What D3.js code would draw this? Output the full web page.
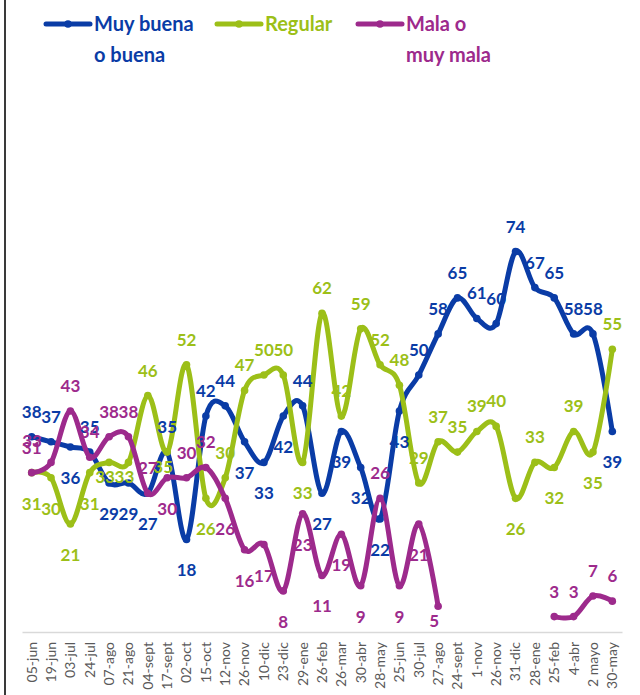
<!DOCTYPE html>
<html>
<head>
<meta charset="utf-8">
<script src="https://cdn.jsdelivr.net/npm/d3@7"></script>
<style>
  body { margin: 0; background: #fff; }
  svg { display: block; font-family: Lato, "Open Sans", sans-serif; }
</style>
</head>
<body>
<div id="chart"></div>
<script>
// Fechas de cada medición (some repeat across years, so the scale works on the index)
const categories = ["05-jun", "19-jun", "03-jul", "24-jul", "07-ago", "21-ago", "04-sept", "17-sept",
    "02-oct", "15-oct", "12-nov", "26-nov", "10-dic", "23-dic", "29-ene", "26-feb", "26-mar", "30-abr",
    "28-may", "25-jun", "30-jul", "27-ago", "24-sept", "1-nov", "26-nov", "31-dic", "28-ene", "25-feb",
    "4-abr", "2 mayo", "30-may"];

const muyBuena = [38, 37, 36, 35, 29, 29, 27, 35, 18, 42, 44, 37, 33, 42, 44, 27, 39, 32, 22, 43,
    50, 58, 65, 61, 60, 74, 67, 65, 58, 58, 39];
const regular = [31, 30, 21, 31, 33, 33, 46, 35, 52, 26, 30, 47, 50, 50, 33, 62, 42, 59, 52, 48,
    29, 37, 35, 39, 40, 26, 33, 32, 39, 35, 55];
const mala = [31, 33, 43, 34, 38, 38, 27, 30, 30, 32, 26, 16, 17, 8, 23, 11, 19, 9, 26, 9,
    21, 5, null, null, null, null, null, 3, 3, 7, 6];

// where each data label sits: a = above, b = below, c = just below, l = above, pushed left
const posBuena   = "aababbbab" + "aa" + "bbb" + "a" + "bbbbb" + "aaaaaaaaaa" + "b";
const posRegular = "bbbb" + "cc" + "a" + "c" + "a" + "b" + "aaaa" + "b" + "aaaaaaaaaa" + "bababa";
const posMala    = "al" + "aaaaa" + "b" + "aa" + "bbbbbbbb" + "a" + "bb" + "c" + "     " + "aaaa";

const labelOffset = { a: [0, -25], b: [0, 31], c: [-4, 15], l: [-19, -21] };

const series = [
    { name: ["Muy buena", "o buena"], values: muyBuena, pos: posBuena, color: "#0a3ca6", legendX: 46 },
    { name: ["Regular"], values: regular, pos: posRegular, color: "#9cbf18", legendX: 217 },
    { name: ["Mala o", "muy mala"], values: mala, pos: posMala, color: "#9d2a8c", legendX: 358 }
];

const width = 640, height = 695;

const svg = d3.select("#chart")
    .append("svg")
    .attr("width", width)
    .attr("height", height);

const x = d3.scaleBand().domain(d3.range(categories.length)).range([22, 622]);
const cx = i => x(i) + x.bandwidth() / 2;
const y = d3.scaleLinear().domain([0, 80]).range([632, 220.8]);

// left frame edge
svg.append("line")
    .attr("x1", 5).attr("x2", 5)
    .attr("y1", 0).attr("y2", height)
    .style("stroke", "#3a3a3a")
    .style("stroke-width", 2);

// x axis
const xAxis = svg.append("g")
    .attr("transform", "translate(0,632)")
    .call(d3.axisBottom(x).tickSize(0).tickSizeOuter(0).tickFormat(i => categories[i]));

xAxis.select(".domain").style("stroke", "#d9d9d9").style("stroke-width", 1.5);
xAxis.selectAll("text")
    .attr("transform", "rotate(-90)")
    .attr("x", -10)
    .attr("y", 0)
    .attr("dy", "0.35em")
    .style("text-anchor", "end")
    .style("font-family", "Lato, sans-serif")
    .style("font-size", "14px")
    .style("fill", "#595959");

// 1. Lines
const line = d3.line()
    .defined(d => d.v != null)
    .x(d => cx(d.i))
    .y(d => y(d.v))
    .curve(d3.curveCardinal.tension(0));

series.forEach(s => {
    s.points = categories.map((c, i) => ({ i, v: s.values[i], p: s.pos[i] }));

    svg.append("path")
        .datum(s.points)
        .attr("d", line)
        .style("fill", "none")
        .style("stroke", s.color)
        .style("stroke-width", 5)
        .style("stroke-linejoin", "round");

    svg.selectAll(null)
        .data(s.points.filter(d => d.v != null))
        .enter()
        .append("circle")
        .attr("cx", d => cx(d.i))
        .attr("cy", d => y(d.v))
        .attr("r", 3.8)
        .style("fill", s.color);
});

// 2. Data labels on top
series.forEach(s => {
    svg.selectAll(null)
        .data(s.points.filter(d => d.v != null))
        .enter()
        .append("text")
        .attr("x", d => cx(d.i) + labelOffset[d.p][0])
        .attr("y", d => y(d.v) + labelOffset[d.p][1])
        .attr("dy", "0.35em")
        .style("text-anchor", "middle")
        .style("font-size", "17px")
        .style("font-weight", "bold")
        .style("fill", s.color)
        .text(d => d.v);
});

// 3. Legend
series.forEach(s => {
    const lg = svg.append("g").attr("transform", `translate(${s.legendX},24)`);
    lg.append("line")
        .attr("x1", 0).attr("x2", 44)
        .style("stroke", s.color)
        .style("stroke-width", 5)
        .style("stroke-linecap", "round");
    lg.append("circle").attr("cx", 22).attr("r", 3.8).style("fill", s.color);
    lg.selectAll("text")
        .data(s.name)
        .enter()
        .append("text")
        .attr("x", 48)
        .attr("y", (d, i) => 7 + i * 31)
        .style("font-size", "20px")
        .style("font-weight", "bold")
        .style("fill", s.color)
        .text(d => d);
});
</script>
</body>
</html>
